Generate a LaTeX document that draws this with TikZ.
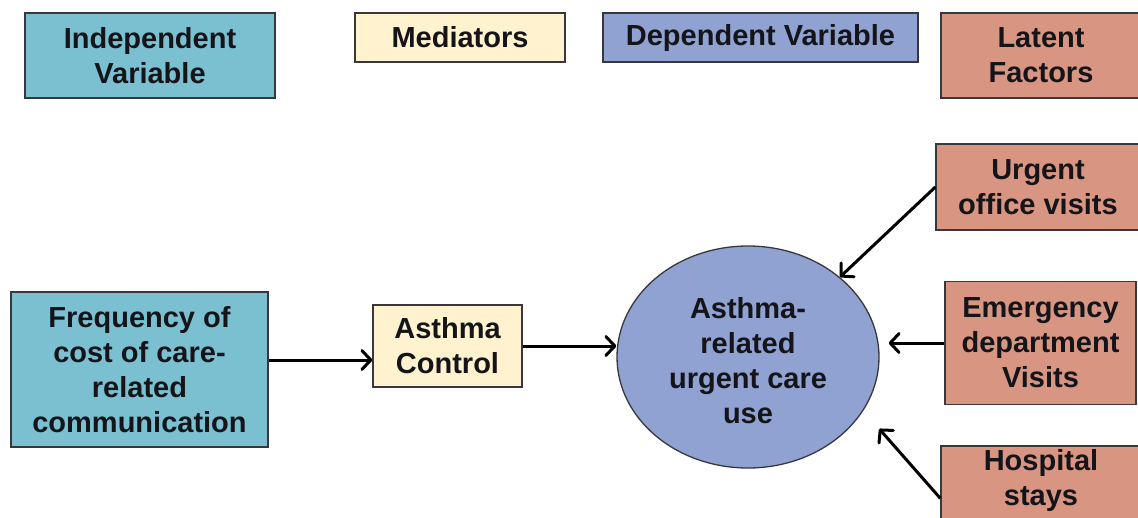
\documentclass[tikz,border=0pt]{standalone}
\usepackage{fontspec}
\setmainfont{Liberation Sans}
\usetikzlibrary{shapes.geometric,arrows.meta,calc}

\definecolor{indepfill}{RGB}{122,192,209}
\definecolor{medfill}{RGB}{255,242,206}
\definecolor{depfill}{RGB}{143,162,210}
\definecolor{latfill}{RGB}{216,150,130}
\definecolor{edge}{RGB}{55,55,60}
\definecolor{ink}{RGB}{20,20,25}

\tikzset{
  box/.style={draw=edge, line width=1.3pt, rectangle, align=center, inner sep=2pt,
    text=ink, font=\fontsize{29pt}{35pt}\selectfont\bfseries},
  indep/.style={box, fill=indepfill},
  medi/.style={box, fill=medfill},
  dep/.style={box, fill=depfill},
  lat/.style={box, fill=latfill},
  boxtext/.style={align=center, inner sep=0pt, text=ink,
    font=\fontsize{29pt}{35pt}\selectfont\bfseries},
  arr/.style={-{Straight Barb[length=9pt,width=19pt,line width=3pt,round]},
    line width=3pt, draw=black},
}

\begin{document}
\begin{tikzpicture}[x=1pt, y=-1pt]
  \useasboundingbox (0,0) rectangle (1138,517);

  % legend row
  \node[indep, minimum width=250, minimum height=85] (lgIndep) at (150,55.5) {Independent\\Variable};
  \node[medi, minimum width=210, minimum height=49] (lgMed) at (460,37.5) {Mediators};
  \node[dep, minimum width=315, minimum height=49] (lgDep) at (760.5,37.5) {Dependent Variable};
  \node[lat, minimum width=200, minimum height=85] (lgLat) at (1041,55.5) {Latent\\Factors};

  % model
  \node[indep, minimum width=257, minimum height=155] (freq) at (139.5,369.5)
    {Frequency of\\cost of care-\\related\\communication};
  \node[medi, minimum width=149, minimum height=82] (ctrl) at (447.5,346) {Asthma\\Control};
  \node[ellipse, draw=edge, line width=1.3pt, fill=depfill, minimum width=262, minimum height=222]
    (use) at (748,357) {};
  \node[boxtext] (useText) at ($(use.center)+(0,4)$)
    {Asthma-\\related\\urgent care\\use};

  \node[lat, minimum width=204, minimum height=86] (urg) at (1038,187) {Urgent\\office visits};
  \node[lat, minimum width=191, minimum height=123] (emer) at (1040.5,343)
    {Emergency\\department\\Visits};
  \node[lat, minimum width=200, minimum height=90] (hosp) at (1041,491) {};
  \node[boxtext] (hospText) at ($(hosp.north)+(0,35)$) {Hospital\\stays};

  % connectors
  \path ([yshift=9.5pt]freq.east) coordinate (fqout);
  \draw[arr] (fqout) -- (fqout -| ctrl.west);
  \draw[arr] (ctrl.east) -- (ctrl.east -| use.west);
  \draw[arr] (urg.west) -- (use.41);
  \draw[arr, shorten >=9pt] (emer.west) -- (emer.west -| use.east);
  \path ($(hosp.north west)+(0,53)$) coordinate (hsout);
  \draw[arr, shorten >=24pt] (hsout) -- (use.-25);
\end{tikzpicture}
\end{document}
